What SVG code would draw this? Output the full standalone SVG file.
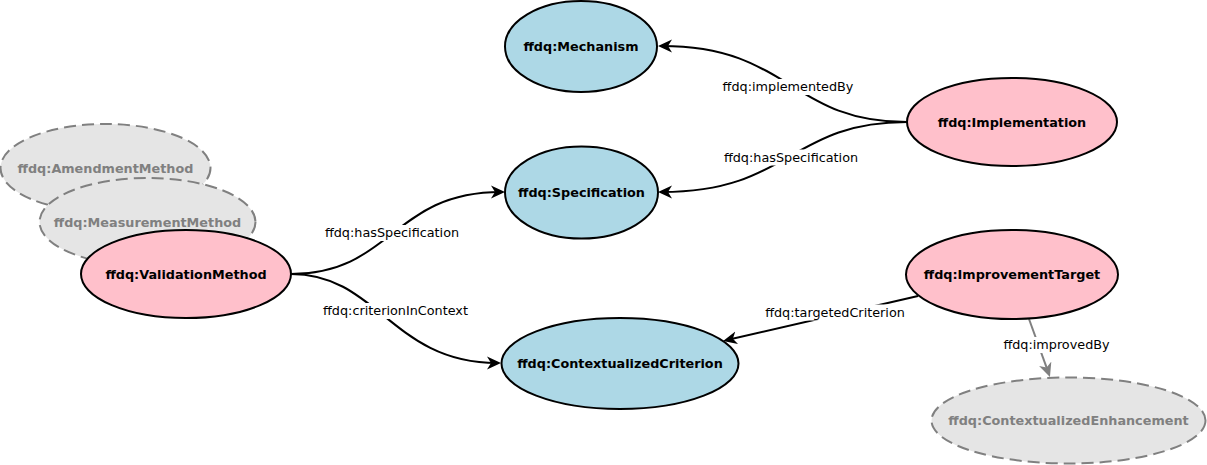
<svg xmlns="http://www.w3.org/2000/svg" width="1207" height="465" viewBox="0 0 1207 465">
<style>
.node{stroke:#000;stroke-width:2}
.blue{fill:#add8e6}
.pink{fill:#ffc0cb}
.ghost{fill:#e5e5e5;stroke:#808080;stroke-width:2;stroke-dasharray:12 6}
.nl{font-family:"DejaVu Sans",sans-serif;font-size:12.8px;font-weight:bold;text-anchor:middle;fill:#000}
.gl{fill:#808080}
.edge{fill:none;stroke:#000;stroke-width:2}
.gedge{fill:none;stroke:#808080;stroke-width:2}
.el{font-family:"DejaVu Sans",sans-serif;font-size:12.8px;text-anchor:middle;fill:#000}
.bg{fill:#fff}
</style>
<defs>
<marker id="arr" markerUnits="userSpaceOnUse" markerWidth="16" markerHeight="14" viewBox="0 0 16 14" refX="10" refY="7" orient="auto">
<path d="M0,0.5 L14,7 L0,13.5 L4,7 z" fill="#000"/>
</marker>
<marker id="garr" markerUnits="userSpaceOnUse" markerWidth="16" markerHeight="14" viewBox="0 0 16 14" refX="10" refY="7" orient="auto">
<path d="M0,0.5 L14,7 L0,13.5 L4,7 z" fill="#808080"/>
</marker>
</defs>
<rect width="1207" height="465" fill="#fff"/>
<g id="connectors">
<path class="edge" d="M907,122 C790,122 790,46 662,46" marker-end="url(#arr)"/>
<path class="edge" d="M907,122 C790,122 790,192 662,192" marker-end="url(#arr)"/>
<path class="edge" d="M291,274 C392,274 392,192 501,192" marker-end="url(#arr)"/>
<path class="edge" d="M291,274 C378,274 392,363 497,363" marker-end="url(#arr)"/>
<path class="edge" d="M918,296 L727,340" marker-end="url(#arr)"/>
<path class="gedge" d="M1029,319 L1048.6,373.2" marker-end="url(#garr)"/>
<rect class="bg" x="720.5" y="79" width="135" height="16"/>
<text class="el" x="788" y="91">ffdq:implementedBy</text>
<rect class="bg" x="722" y="149.5" width="138" height="16"/>
<text class="el" x="791" y="161.5">ffdq:hasSpecification</text>
<rect class="bg" x="323" y="225" width="138" height="16"/>
<text class="el" x="392" y="237">ffdq:hasSpecification</text>
<rect class="bg" x="321" y="303" width="149" height="16"/>
<text class="el" x="395.5" y="315">ffdq:criterionInContext</text>
<rect class="bg" x="763" y="304.5" width="144" height="16"/>
<text class="el" x="835" y="316.5">ffdq:targetedCriterion</text>
<rect class="bg" x="1001" y="337" width="111" height="16"/>
<text class="el gl" x="1056.5" y="349">ffdq:improvedBy</text>
</g>
<g id="amendment">
<ellipse class="ghost" cx="105.5" cy="168" rx="105" ry="44"/>
<text class="nl gl" x="105.5" y="172.5">ffdq:AmendmentMethod</text>
</g>
<g id="measurement">
<ellipse class="ghost" cx="147.5" cy="222" rx="108" ry="44"/>
<text class="nl gl" x="147.5" y="226.5">ffdq:MeasurementMethod</text>
</g>
<g id="validation">
<ellipse class="node pink" cx="186" cy="274" rx="105" ry="44"/>
<text class="nl" x="186" y="278.5">ffdq:ValidationMethod</text>
</g>
<g id="mechanism">
<ellipse class="node blue" cx="581" cy="46.5" rx="76" ry="45.5"/>
<text class="nl" x="581" y="51">ffdq:Mechanism</text>
</g>
<g id="specification">
<ellipse class="node blue" cx="581.5" cy="192.5" rx="76.5" ry="46"/>
<text class="nl" x="581.5" y="197">ffdq:Specification</text>
</g>
<g id="criterion">
<ellipse class="node blue" cx="620" cy="363.5" rx="118.5" ry="45.5"/>
<text class="nl" x="620" y="368">ffdq:ContextualizedCriterion</text>
</g>
<g id="implementation">
<ellipse class="node pink" cx="1012" cy="122" rx="105" ry="44"/>
<text class="nl" x="1012" y="126.5">ffdq:Implementation</text>
</g>
<g id="improvementtarget">
<ellipse class="node pink" cx="1012" cy="274.5" rx="106" ry="44.5"/>
<text class="nl" x="1012" y="279">ffdq:ImprovementTarget</text>
</g>
<g id="enhancement">
<ellipse class="ghost" cx="1068.5" cy="420.5" rx="137" ry="43"/>
<text class="nl gl" x="1068.5" y="425">ffdq:ContextualizedEnhancement</text>
</g>
</svg>
